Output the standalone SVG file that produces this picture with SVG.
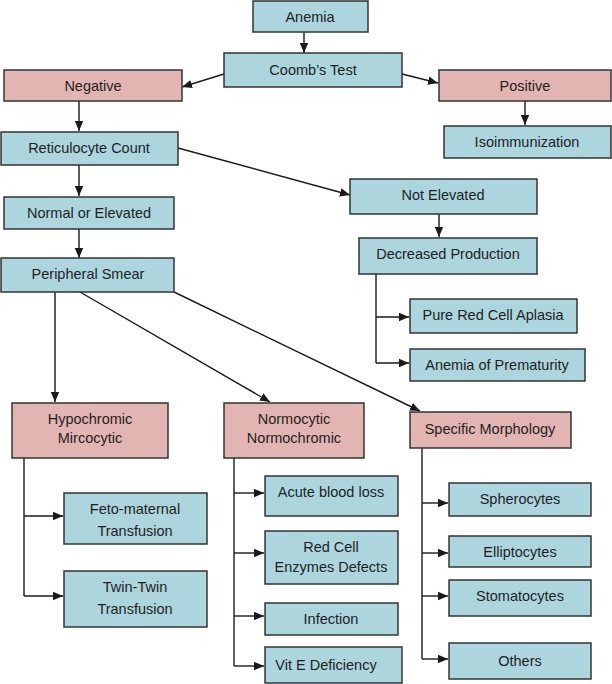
<svg xmlns="http://www.w3.org/2000/svg" width="612" height="684" viewBox="0 0 612 684">
<defs>
<marker id="ah" markerUnits="userSpaceOnUse" markerWidth="10" markerHeight="10" viewBox="0 0 10 10" refX="10" refY="5" orient="auto">
<path d="M0,0.8 L10,5 L0,9.2 Z" fill="#1a1a1a"/>
</marker>
<style>
rect{stroke:#333;stroke-width:1.5}
.b{fill:#acd5dd}
.p{fill:#e3b5b2}
text{font-family:"Liberation Sans","Open Sans",Arial,sans-serif;font-size:14.5px;fill:#1f1f1f;text-anchor:middle}
.c path{fill:none;stroke:#1a1a1a;stroke-width:1.4}
.c .a{marker-end:url(#ah)}
</style>
</defs>
<rect width="612" height="684" fill="#fff" style="stroke:none"/>
<g class="c" id="connectors">
<path class="a" d="M304,32 V53"/>
<path class="a" d="M224,74 L182,87"/>
<path class="a" d="M402,74 L438,83"/>
<path class="a" d="M525,101 V125"/>
<path class="a" d="M79,101 V131"/>
<path class="a" d="M79,165 V196"/>
<path class="a" d="M178,148 L350,195"/>
<path class="a" d="M439,214 V237"/>
<path d="M376,274 V363"/>
<path class="a" d="M376,317 H409"/>
<path class="a" d="M376,363 H409"/>
<path class="a" d="M79,229 V258"/>
<path class="a" d="M55,292 V402"/>
<path class="a" d="M80,292 L270,402"/>
<path class="a" d="M174,292 L420,411"/>
<path d="M24,458 V596"/>
<path class="a" d="M24,516 H63"/>
<path class="a" d="M24,596 H63"/>
<path d="M234,458 V666"/>
<path class="a" d="M234,493 H264"/>
<path class="a" d="M234,553 H264"/>
<path class="a" d="M234,616 H264"/>
<path class="a" d="M234,666 H264"/>
<path d="M422,448 V659"/>
<path class="a" d="M422,503 H448"/>
<path class="a" d="M422,553 H448"/>
<path class="a" d="M422,596 H448"/>
<path class="a" d="M422,659 H448"/>
</g>
<g id="anemia"><rect class="b" x="253" y="1" width="115" height="31"/><text x="310" y="22">Anemia</text></g>
<g id="coombs"><rect class="b" x="224" y="53" width="178" height="34"/><text x="313" y="75">Coomb’s Test</text></g>
<g id="negative"><rect class="p" x="4" y="70" width="178" height="31"/><text x="93" y="91">Negative</text></g>
<g id="positive"><rect class="p" x="439" y="70" width="172" height="31"/><text x="525" y="91">Positive</text></g>
<g id="isoimmunization"><rect class="b" x="444" y="126" width="167" height="32"/><text x="527" y="147">Isoimmunization</text></g>
<g id="reticulocyte"><rect class="b" x="1" y="132" width="177" height="33"/><text x="89" y="153">Reticulocyte Count</text></g>
<g id="normal-elevated"><rect class="b" x="4" y="197" width="170" height="32"/><text x="89" y="218">Normal or Elevated</text></g>
<g id="not-elevated"><rect class="b" x="350" y="179" width="187" height="35"/><text x="443" y="200">Not Elevated</text></g>
<g id="decreased-production"><rect class="b" x="359" y="238" width="178" height="36"/><text x="448" y="259">Decreased Production</text></g>
<g id="peripheral-smear"><rect class="b" x="1" y="258" width="173" height="34"/><text x="88" y="279">Peripheral Smear</text></g>
<g id="pure-red-cell"><rect class="b" x="410" y="299" width="167" height="34"/><text x="493" y="320">Pure Red Cell Aplasia</text></g>
<g id="anemia-prematurity"><rect class="b" x="410" y="349" width="175" height="32"/><text x="497" y="370">Anemia of Prematurity</text></g>
<g id="hypochromic"><rect class="p" x="12" y="403" width="156" height="55"/><text x="90" y="424">Hypochromic</text><text x="90" y="443">Mircocytic</text></g>
<g id="normocytic"><rect class="p" x="224" y="403" width="140" height="55"/><text x="294" y="424">Normocytic</text><text x="294" y="443">Normochromic</text></g>
<g id="specific-morphology"><rect class="p" x="410" y="412" width="161" height="36"/><text x="490" y="434">Specific Morphology</text></g>
<g id="feto-maternal"><rect class="b" x="64" y="493" width="143" height="51"/><text x="135" y="514">Feto-maternal</text><text x="135" y="536">Transfusion</text></g>
<g id="twin-twin"><rect class="b" x="64" y="571" width="143" height="56"/><text x="135" y="592">Twin-Twin</text><text x="135" y="614">Transfusion</text></g>
<g id="acute-blood-loss"><rect class="b" x="265" y="476" width="133" height="40"/><text x="331" y="497">Acute blood loss</text></g>
<g id="red-cell-enzymes"><rect class="b" x="265" y="531" width="133" height="53"/><text x="331" y="552">Red Cell</text><text x="331" y="572">Enzymes Defects</text></g>
<g id="infection"><rect class="b" x="265" y="603" width="133" height="32"/><text x="331" y="624">Infection</text></g>
<g id="vit-e"><rect class="b" x="265" y="647" width="137" height="36"/><text x="326" y="670">Vit E Deficiency</text></g>
<g id="spherocytes"><rect class="b" x="449" y="483" width="142" height="33"/><text x="520" y="504">Spherocytes</text></g>
<g id="elliptocytes"><rect class="b" x="449" y="536" width="142" height="31"/><text x="520" y="557">Elliptocytes</text></g>
<g id="stomatocytes"><rect class="b" x="449" y="580" width="142" height="36"/><text x="520" y="601">Stomatocytes</text></g>
<g id="others"><rect class="b" x="449" y="643" width="142" height="36"/><text x="520" y="666">Others</text></g>
</svg>
